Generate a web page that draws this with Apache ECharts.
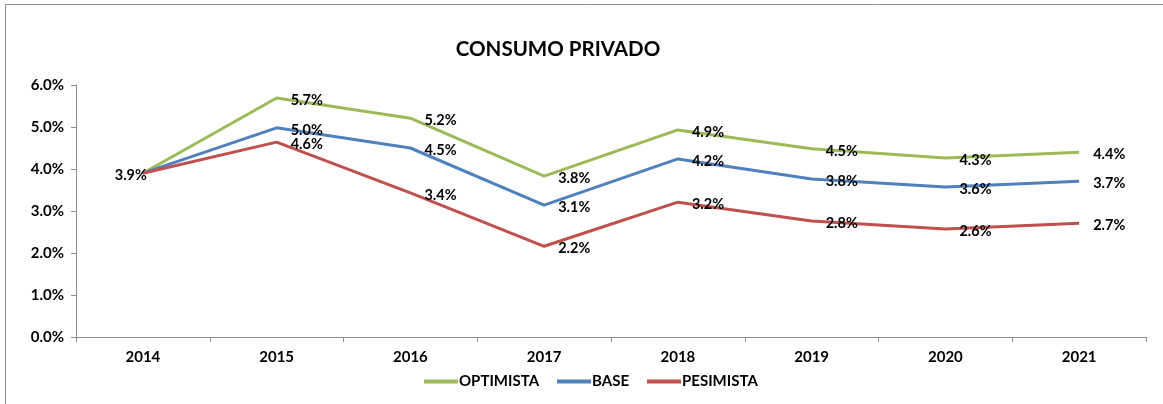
<!DOCTYPE html>
<html>
<head>
<meta charset="utf-8">
<script src="https://cdn.jsdelivr.net/npm/echarts@6/dist/echarts.min.js"></script>
<style>
  html, body { margin: 0; padding: 0; background: #fff; }
  #chart { width: 1163px; height: 404px; }
</style>
</head>
<body>
<div id="chart"></div>
<script>
// datos del gráfico (en %)
const years = ['2014', '2015', '2016', '2017', '2018', '2019', '2020', '2021'];
const optimista = [3.9, 5.69, 5.21, 3.83, 4.93, 4.48, 4.26, 4.40];
const base = [3.9, 4.98, 4.50, 3.14, 4.24, 3.76, 3.57, 3.71];
const pesimista = [3.9, 4.64, 3.43, 2.16, 3.21, 2.76, 2.57, 2.71];
const yTicks = [0, 1, 2, 3, 4, 5, 6];

const FONT = 'Lato, "Open Sans", sans-serif';

function makeSeries(name, values, color, firstLabel) {
  return {
    name: name,
    type: 'line',
    // 2014 coincide en las tres series: una sola etiqueta, a la izquierda
    data: values.map((v, i) => i === 0
      ? { value: v, label: { show: firstLabel, position: 'left', distance: -4, offset: [0, 2] } }
      : v),
    symbol: 'circle',
    symbolSize: 0,
    showSymbol: true,
    lineStyle: { width: 3, color: color },
    itemStyle: { color: color },
    label: {
      show: true,
      position: 'right',
      distance: 14,
      offset: [0, 2],
      color: '#000',
      fontFamily: FONT,
      fontWeight: 'bold',
      fontSize: 14.5,
      formatter: p => p.value.toFixed(1) + '%'
    }
  };
}

const myChart = echarts.init(document.getElementById('chart'));
myChart.setOption({
  animation: false,
  title: {
    text: 'CONSUMO PRIVADO',
    left: 553, top: 34, textAlign: 'center',
    textStyle: { fontFamily: FONT, fontWeight: 'bold', fontSize: 20.5, color: '#000' }
  },
  graphic: [{
    type: 'rect', silent: true,
    shape: { x: 5.5, y: 4.5, width: 1300, height: 500 },
    style: { fill: 'none', stroke: '#8c8c8c', lineWidth: 1 }
  }],
  legend: {
    left: 419, top: 369,
    itemWidth: 34, itemHeight: 4, itemGap: 18,
    icon: 'rect',
    textStyle: { fontFamily: FONT, fontWeight: 'bold', fontSize: 15, color: '#000', padding: [0, 0, 0, -4] },
    data: ['OPTIMISTA', 'BASE', 'PESIMISTA']
  },
  grid: { left: 76, right: 17, top: 85, bottom: 67, containLabel: false },
  xAxis: {
    type: 'category', data: years, boundaryGap: true,
    axisLine: { lineStyle: { color: '#8c8c8c', width: 1 } },
    axisTick: { show: true, length: 5, lineStyle: { color: '#8c8c8c' } },
    axisLabel: { margin: 13, fontFamily: FONT, fontWeight: 'bold', fontSize: 15, color: '#000' }
  },
  yAxis: {
    type: 'value', min: yTicks[0], max: yTicks[yTicks.length - 1], interval: 1,
    axisLine: { show: true, lineStyle: { color: '#8c8c8c', width: 1 } },
    axisTick: { show: true, length: 5, lineStyle: { color: '#8c8c8c' } },
    splitLine: { show: false },
    axisLabel: { margin: 12, fontFamily: FONT, fontWeight: 'bold', fontSize: 15, color: '#000',
      formatter: v => v.toFixed(1) + '%' }
  },
  series: [
    makeSeries('OPTIMISTA', optimista, '#9BBB59', false),
    makeSeries('BASE', base, '#4F81BD', false),
    makeSeries('PESIMISTA', pesimista, '#C0504D', true)
  ]
});
</script>
</body>
</html>
